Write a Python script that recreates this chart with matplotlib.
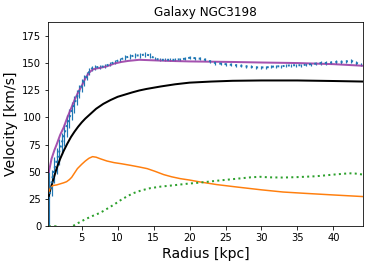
import matplotlib
matplotlib.use("Agg")
import matplotlib.pyplot as plt
import numpy as np

# Observed rotation curve
r_obs = [0.43, 0.8, 1.15, 1.5, 1.85, 2.2, 2.55, 2.9, 3.25, 3.6, 3.95, 4.3, 4.65, 5.0,
         5.35, 5.7, 6.05, 6.4, 6.8, 7.5, 8.2, 8.9, 9.6, 10.3, 11.0, 11.7, 12.4, 13.1,
         13.8, 14.5, 15.2, 15.9, 16.6, 17.3, 18.0, 18.7, 19.4, 20.1, 20.8, 21.5, 22.2,
         22.9, 23.6, 24.3, 25.0, 25.7, 26.4, 27.1, 27.8, 28.5, 29.2, 29.9, 30.6, 31.3,
         32.0, 32.7, 33.4, 34.1, 34.8, 35.5, 36.2, 36.9, 37.6, 38.3, 39.0, 39.7, 40.4,
         41.1, 41.8, 42.5, 43.2, 43.9]
v_obs = [25, 40, 52, 60, 68, 76, 84, 92, 99, 106, 112, 118, 124, 129,
         134, 138, 142, 145, 146, 146.5, 147, 149, 151, 153, 155, 156, 157, 157,
         158, 157, 154, 153, 153, 153, 153, 153.5, 154, 155, 154.5, 154, 153,
         151.5, 150, 149.5, 149, 148.5, 148, 147.5, 147, 146.5, 146, 146, 146, 146.5,
         147, 147, 147.5, 148, 148, 148, 148.5, 149, 149.5, 150, 150, 150.5, 151,
         151, 151.5, 152, 150, 149]
e_obs = [25, 12, 12, 12, 12, 10, 10, 10, 9, 8, 8, 7, 6, 6,
         5, 4, 3, 2.5, 2, 2, 2, 2, 2, 2, 2, 2, 2, 2,
         2, 2, 1.5, 1.5, 1.5, 1.5, 1.5, 1.5, 1.5, 1.5, 1.5, 1.5, 1.5,
         1.5, 1.5, 1.5, 1.5, 1.5, 1.5, 1.5, 1.5, 1.5, 1.5, 1.5, 1.5, 1.5,
         1.5, 1.5, 1.5, 1.5, 1.5, 1.5, 1.5, 1.5, 1.5, 1.5, 1.5, 1.5, 1.5,
         1.5, 1.5, 1.5, 1.5, 1.5]

# Total fit
r_tot = [0.43, 0.8, 1.2, 1.5, 2.0, 2.5, 3.0, 3.5, 4.0, 4.5, 5.0, 5.5, 6.0, 6.5, 7.0,
         7.5, 8.5, 9.5, 10.5, 11.5, 13, 15, 17, 20, 26, 30, 35, 40, 44.16]
v_tot = [50, 62, 70, 75, 84, 91, 100, 108, 116, 123, 129, 136, 141, 144, 145,
         145.5, 147, 149.5, 151, 152, 153, 152.5, 152, 151.5, 151, 150.5, 150, 149, 147.5]

# Dark halo
r_halo = [0.43, 0.6, 1.0, 1.5, 2.0, 2.5, 3.0, 3.5, 4.0, 4.5, 5.0, 5.5, 6.0, 7, 8, 9,
          10, 11, 12, 13, 14, 16, 18, 20, 23, 26, 30, 35, 40, 44.16]
v_halo = [28, 33, 42, 53, 62, 69.5, 76, 82, 87, 91.5, 95.5, 99, 102, 108, 112.5, 116,
          119, 121, 123, 124.8, 126.2, 128.5, 130.5, 132, 133, 133.7, 134, 134, 133.5, 133]

# Stellar disk
r_disk = [0.43, 0.6, 1.0, 1.5, 2.0, 2.5, 2.9, 3.3, 3.6, 4.0, 4.4, 5.0, 5.5, 6.0, 6.5,
          7.0, 7.6, 8.5, 9.5, 10.5, 11.8, 13, 14.1, 15.2, 16.4, 17.5, 18.7, 20, 21.5,
          23.8, 26.7, 30, 33, 36, 40, 44.16]
v_disk = [31, 35, 37.5, 38, 39, 40, 41, 43, 45, 49, 53, 57, 60, 62.5, 64,
          63.5, 62, 60, 58.5, 57.5, 56, 54.5, 53, 50.5, 47.5, 45.5, 43.8, 42.5, 40.7,
          38.3, 36, 33.5, 31.5, 30.3, 28.8, 27.3]

# Gas
r_gas = [0.43, 1.0, 1.4, 2.0, 3.0, 3.7, 4.5, 5.5, 6.5, 7.6, 8.5, 9.5, 10.4, 11.3,
         12.2, 13.3, 14.5, 16, 17.8, 19.5, 21.5, 24, 26.7, 28.5, 29.8, 31, 33, 35,
         37.6, 40, 42.2, 43, 44.16]
v_gas = [0, 0, 0, -3, -3, 0, 3, 6.5, 9.5, 12.5, 16, 20, 24, 27.5,
         30.5, 33, 35, 36.5, 37.7, 39, 40.2, 42, 43.8, 45, 45.5, 45, 44.8, 45.2,
         46, 47.5, 48.7, 48.5, 47.5]

fig = plt.figure(figsize=(374 / 72, 266 / 72), dpi=72)
ax = fig.add_axes([48.3 / 374, 1 - 226.3 / 266, (363.3 - 48.3) / 374, (226.3 - 21.7) / 266])

ax.errorbar(r_obs, v_obs, yerr=e_obs, fmt=':', color='C0', lw=2, elinewidth=1.2)
ax.plot(r_tot, v_tot, color='#9b3fa6', lw=2, alpha=0.9)
ax.plot(r_halo, v_halo, color='black', lw=2)
ax.plot(r_disk, v_disk, color='C1', lw=1.5)
ax.plot(r_gas, v_gas, ':', color='C2', lw=2)

ax.set_xlim(0.35, 44.16)
ax.set_ylim(0, 188)
ax.set_xticks([5, 10, 15, 20, 25, 30, 35, 40])
ax.set_yticks([0, 25, 50, 75, 100, 125, 150, 175])
ax.set_title('Galaxy NGC3198', fontsize=12)
ax.set_xlabel('Radius [kpc]', fontsize=14)
ax.set_ylabel('Velocity [km/s]', fontsize=14)

fig.savefig('out.png', dpi=72)
